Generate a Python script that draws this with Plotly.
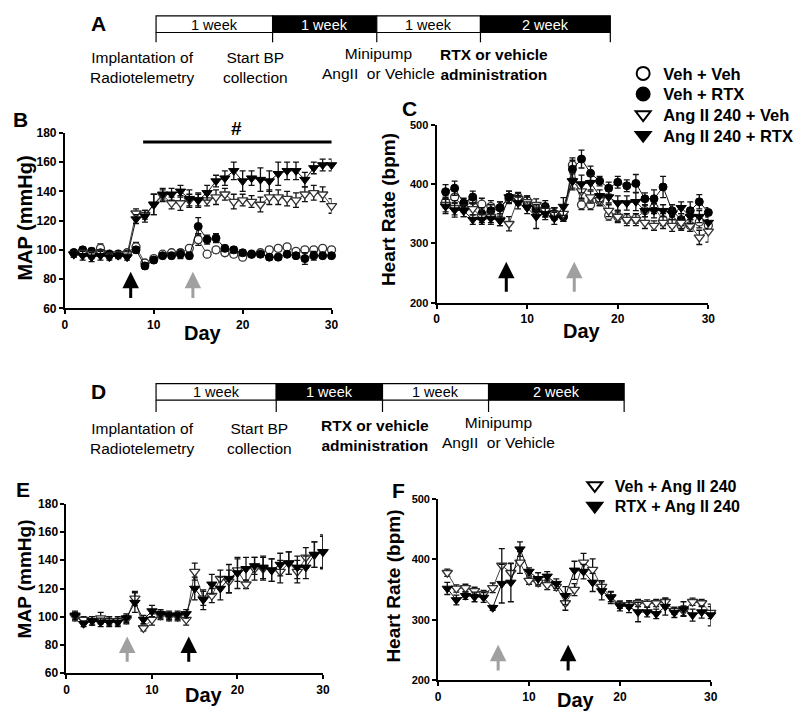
import plotly.graph_objects as go

# ---------------- data ----------------
days = list(range(1, 31))

# Panel B: MAP (mmHg)
b_veh_veh = [98, 99, 98, 101, 97, 97, 98, 102, 91, 94, 97, 98, 98, 101, 107, 97, 100, 98, 97, 95, 97, 98, 100, 101, 102, 99, 100, 100, 101, 100]
b_veh_veh_err = [2, 2, 3, 3, 2, 2, 2, 3, 2, 2, 1.5, 1.5, 2, 1.5, 4, 2, 2, 2, 2, 2, 1.5, 1.5, 1.5, 1.5, 1.5, 1.5, 2, 1.5, 1.5, 1.5]
b_veh_rtx = [98, 100, 99, 98, 97, 97, 97, 100, 89, 93, 96, 96, 97, 96, 116, 107, 108, 101, 100, 98, 97, 97, 95, 95, 97, 96, 94, 96, 96, 96]
b_veh_rtx_err = [2, 2, 2, 2, 2, 2, 2, 2, 2, 2, 2, 2, 3, 2, 6, 3, 3, 2, 2, 2, 2, 2, 2, 2, 2, 2, 4, 3, 2, 2]
b_ang_veh = [97, 98, 97, 98, 96, 97, 97, 125, 124, 131, 137, 132, 132, 134, 134, 134, 136, 138, 133, 134, 133, 131, 136, 136, 135, 134, 138, 139, 138, 130]
b_ang_veh_err = [2, 2, 3, 2, 2, 2, 2, 3, 3, 7, 4, 4, 5, 4, 4, 4, 5, 4, 5, 4, 4, 5, 5, 5, 5, 5, 5, 5, 5, 5]
b_ang_rtx = [97, 96, 95, 96, 95, 96, 95, 121, 123, 131, 138, 138, 140, 135, 134, 139, 147, 149, 154, 147, 149, 148, 147, 152, 154, 154, 148, 156, 158, 158]
b_ang_rtx_err = [2, 3, 3, 3, 2, 2, 2, 3, 4, 7, 4, 4, 4, 6, 5, 5, 4, 5, 6, 7, 5, 8, 7, 8, 6, 6, 5, 4, 4, 4]

# Panel C: Heart rate (bpm)
c_veh_veh = [370, 378, 360, 372, 366, 362, 360, 375, 378, 372, 356, 354, 350, 345, 432, 365, 365, 372, 347, 345, 342, 342, 355, 360, 340, 337, 330, 330, 336, 330]
c_veh_veh_err = [10, 10, 8, 10, 10, 10, 10, 8, 8, 8, 10, 10, 10, 8, 12, 8, 8, 8, 8, 8, 8, 8, 10, 10, 10, 10, 8, 10, 10, 10]
c_veh_rtx = [387, 393, 368, 378, 350, 355, 360, 378, 375, 368, 358, 362, 350, 345, 425, 442, 418, 405, 393, 403, 397, 401, 375, 375, 395, 355, 340, 355, 370, 352]
c_veh_rtx_err = [12, 12, 8, 10, 10, 10, 10, 10, 10, 10, 10, 10, 10, 8, 15, 15, 12, 8, 10, 10, 10, 15, 10, 15, 18, 10, 10, 15, 12, 8]
c_ang_veh = [365, 360, 355, 358, 345, 345, 340, 333, 375, 370, 365, 355, 350, 350, 405, 388, 378, 373, 355, 345, 340, 340, 335, 330, 335, 330, 335, 330, 310, 320]
c_ang_veh_err = [12, 12, 10, 10, 10, 10, 10, 12, 10, 10, 10, 10, 10, 10, 12, 12, 10, 10, 10, 10, 10, 10, 10, 8, 10, 10, 10, 10, 12, 18]
c_ang_rtx = [362, 356, 355, 340, 340, 342, 338, 378, 368, 360, 345, 350, 342, 362, 405, 400, 402, 380, 378, 368, 368, 370, 355, 355, 355, 350, 360, 345, 345, 335]
c_ang_rtx_err = [12, 12, 10, 8, 8, 10, 8, 10, 10, 10, 20, 10, 10, 15, 15, 15, 12, 10, 10, 12, 12, 15, 10, 12, 10, 10, 10, 12, 10, 10]

# Panel E: MAP (mmHg)
e_veh_ang = [100, 98, 97, 99, 97, 97, 98, 113, 92, 98, 101, 100, 100, 98, 132, 113, 115, 127, 125, 133, 123, 134, 134, 133, 132, 138, 132, 142, 144, 146]
e_veh_ang_err = [3, 2, 3, 4, 3, 3, 3, 5, 2, 4, 3, 3, 3, 4, 6, 5, 5, 6, 8, 8, 3, 8, 8, 8, 8, 8, 8, 7, 9, 12]
e_rtx_ang = [101, 95, 97, 96, 96, 96, 99, 110, 98, 104, 102, 101, 101, 102, 120, 112, 123, 120, 127, 131, 134, 136, 135, 133, 137, 138, 135, 135, 144, 146]
e_rtx_ang_err = [3, 2, 3, 3, 3, 3, 3, 7, 3, 4, 3, 3, 3, 3, 8, 7, 7, 8, 10, 11, 8, 6, 8, 8, 8, 8, 8, 8, 9, 11]

# Panel F: Heart rate (bpm)
f_veh_ang = [378, 352, 353, 348, 343, 353, 390, 378, 395, 365, 362, 358, 355, 328, 350, 395, 383, 355, 338, 325, 325, 328, 327, 328, 330, 315, 315, 330, 328, 312]
f_veh_ang_err = [6, 6, 6, 6, 6, 8, 28, 15, 18, 6, 6, 8, 6, 12, 10, 15, 18, 10, 8, 6, 6, 6, 6, 6, 6, 6, 8, 6, 6, 10]
f_rtx_ang = [352, 333, 340, 338, 337, 320, 360, 362, 417, 380, 368, 372, 360, 340, 382, 380, 362, 348, 337, 323, 322, 313, 313, 310, 322, 312, 318, 308, 313, 308]
f_rtx_ang_err = [10, 8, 6, 8, 8, 4, 32, 32, 12, 6, 10, 8, 8, 15, 15, 12, 15, 15, 10, 8, 10, 16, 8, 8, 14, 8, 12, 10, 10, 18]

# arrows (day of intervention, black = first, grey = second)
b_arrows = [(7.4, "#000000"), (14.4, "#a0a0a0")]
c_arrows = [(7.7, "#000000"), (15.2, "#a0a0a0")]
e_arrows = [(7.1, "#a0a0a0"), (14.3, "#000000")]
f_arrows = [(6.6, "#a0a0a0"), (14.3, "#000000")]

x_ticks = [0, 10, 20, 30]
map_ticks = [60, 80, 100, 120, 140, 160, 180]
hr_ticks = [200, 300, 400, 500]

legend_top = ["Veh + Veh", "Veh + RTX", "Ang II 240 + Veh", "Ang II 240 + RTX"]
legend_bottom = ["Veh + Ang II 240", "RTX + Ang II 240"]

timeline_a = ["1 week", "1 week", "1 week", "2 week"]
timeline_d = ["1 week", "1 week", "1 week", "2 week"]

# ---------------- layout helpers ----------------
W, H = 800, 722
FONT = "Liberation Sans, Arial, sans-serif"


def px(x):
    return x / W


def py(y):
    return 1 - y / H


OPEN_C = dict(symbol="circle", color="white", size=8, line=dict(color="#333333", width=1.3))
FILL_C = dict(symbol="circle", color="black", size=8, line=dict(color="black", width=1))
OPEN_T = dict(symbol="triangle-down", color="white", size=9, line=dict(color="#333333", width=1.3))
FILL_T = dict(symbol="triangle-down", color="black", size=9, line=dict(color="black", width=1))

fig = go.Figure()


def add_series(y, err, marker, xa, ya, linecolor):
    fig.add_trace(go.Scatter(
        x=days, y=y, mode="lines+markers", xaxis=xa, yaxis=ya,
        marker=marker, line=dict(color=linecolor, width=1),
        error_y=dict(type="data", array=err, visible=True, color="#111111", thickness=1.3, width=3),
        showlegend=False, cliponaxis=False, hoverinfo="skip"))


# B
add_series(b_veh_veh, b_veh_veh_err, OPEN_C, "x", "y", "#444444")
add_series(b_veh_rtx, b_veh_rtx_err, FILL_C, "x", "y", "#111111")
add_series(b_ang_veh, b_ang_veh_err, OPEN_T, "x", "y", "#444444")
add_series(b_ang_rtx, b_ang_rtx_err, FILL_T, "x", "y", "#111111")
# C
add_series(c_veh_veh, c_veh_veh_err, OPEN_C, "x2", "y2", "#444444")
add_series(c_veh_rtx, c_veh_rtx_err, FILL_C, "x2", "y2", "#111111")
add_series(c_ang_veh, c_ang_veh_err, OPEN_T, "x2", "y2", "#444444")
add_series(c_ang_rtx, c_ang_rtx_err, FILL_T, "x2", "y2", "#111111")
# E
add_series(e_veh_ang, e_veh_ang_err, OPEN_T, "x3", "y3", "#444444")
add_series(e_rtx_ang, e_rtx_ang_err, FILL_T, "x3", "y3", "#111111")
# F
add_series(f_veh_ang, f_veh_ang_err, OPEN_T, "x4", "y4", "#444444")
add_series(f_rtx_ang, f_rtx_ang_err, FILL_T, "x4", "y4", "#111111")

# legend entries: one legend per entry for exact placement
legend_layouts = {}
top_y = [68, 89, 110, 131]
for i, (name, mk) in enumerate(zip(legend_top, [OPEN_C, FILL_C, OPEN_T, FILL_T])):
    m = dict(mk)
    m["size"] = 13
    m["line"] = dict(color="black", width=2)
    lname = "legend" if i == 0 else "legend%d" % (i + 1)
    fig.add_trace(go.Scatter(x=[None], y=[None], mode="markers", marker=m, name=name,
                             legend=lname, xaxis="x", yaxis="y"))
    legend_layouts[lname] = dict(x=px(628), y=py(top_y[i]), xanchor="left", yanchor="middle",
                                 bgcolor="rgba(0,0,0,0)",
                                 font=dict(family=FONT, size=16.5, color="black", weight=700),
                                 itemsizing="trace")
bot_y = [488, 509]
for j, (name, mk) in enumerate(zip(legend_bottom, [OPEN_T, FILL_T])):
    m = dict(mk)
    m["size"] = 13
    m["line"] = dict(color="black", width=2)
    lname = "legend%d" % (5 + j)
    fig.add_trace(go.Scatter(x=[None], y=[None], mode="markers", marker=m, name=name,
                             legend=lname, xaxis="x4", yaxis="y4"))
    legend_layouts[lname] = dict(x=px(579), y=py(bot_y[j]), xanchor="left", yanchor="middle",
                                 bgcolor="rgba(0,0,0,0)",
                                 font=dict(family=FONT, size=16, color="black", weight=700),
                                 itemsizing="trace")


def tf(size):
    return dict(family=FONT, size=size, color="black", weight=700)


def xax(dom, anchor):
    return dict(domain=dom, anchor=anchor, range=[0, 30], tickvals=x_ticks, showline=True,
                linecolor="black", linewidth=2, ticks="outside", ticklen=4, tickwidth=2,
                tickcolor="black", showgrid=False, zeroline=False, tickfont=tf(12), fixedrange=True)


def yax(dom, anchor, rng, tv, fs=12):
    return dict(domain=dom, anchor=anchor, range=rng, tickvals=tv, showline=True,
                linecolor="black", linewidth=2, ticks="outside", ticklen=4, tickwidth=2,
                tickcolor="black", showgrid=False, zeroline=False, tickfont=tf(fs), fixedrange=True)


shapes = []
annotations = []


def text(t, x, y, size=15, bold=False, color="black", angle=0):
    annotations.append(dict(text=t, x=px(x), y=py(y), xref="paper", yref="paper", showarrow=False,
                            xanchor="center", yanchor="middle", textangle=angle,
                            font=dict(family=FONT, size=size, color=color, weight=700 if bold else 400)))


def timeline(bounds, top, bot, tick_bot, labels):
    fills = ["white", "black", "white", "black"]
    for i in range(4):
        shapes.append(dict(type="rect", xref="paper", yref="paper", x0=px(bounds[i]), x1=px(bounds[i + 1]),
                           y0=py(bot), y1=py(top), fillcolor=fills[i], line=dict(color="black", width=1.2)))
        text(labels[i], (bounds[i] + bounds[i + 1]) / 2, (top + bot) / 2 + 0.5, size=14.5,
             color="black" if fills[i] == "white" else "white")
    for b in bounds:
        shapes.append(dict(type="line", xref="paper", yref="paper", x0=px(b), x1=px(b),
                           y0=py(tick_bot), y1=py(bot), line=dict(color="black", width=1.2)))


# timeline A
timeline([155, 273, 378.5, 483.5, 615], 9, 26, 36, timeline_a)
text("Implantation of<br>Radiotelemetry", 141, 61.5, size=15.5)
text("Start BP<br>collection", 256, 61.5, size=15.5)
text("Minipump<br>AngII  or Vehicle", 380, 58, size=15.5)
text("RTX or vehicle<br>administration", 497, 58.5, size=15.5, bold=True)

# timeline D
timeline([155, 276.7, 384.3, 491.7, 629], 384, 401, 413, timeline_d)
text("Implantation of<br>Radiotelemetry", 141, 440.5, size=15.5)
text("Start BP<br>collection", 260, 440, size=15.5)
text("RTX or vehicle<br>administration", 377, 437, size=15.5, bold=True)
text("Minipump<br>AngII  or Vehicle", 502, 434, size=15.5)

# panel letters
for lt, x, y in [("A", 97, 17), ("B", 18, 115), ("C", 412, 104), ("D", 97, 392), ("E", 20, 492), ("F", 400, 493)]:
    text(lt, x, y, size=21, bold=True)

# axis titles
text("MAP (mmHg)", 22, 215, size=20, bold=True, angle=-90)
text("Heart Rate (bpm)", 391, 207, size=19, bold=True, angle=-90)
text("MAP (mmHg)", 22, 583, size=19, bold=True, angle=-90)
text("Heart Rate (bpm)", 395, 591, size=19, bold=True, angle=-90)
text("Day", 203, 332, size=20, bold=True)
text("Day", 586, 330, size=20, bold=True)
text("Day", 204, 702, size=20, bold=True)
text("Day", 580, 707, size=20, bold=True)

# significance bar in B
shapes.append(dict(type="line", xref="x", yref="y", x0=8.8, x1=30.05, y0=173.7, y1=173.7,
                   line=dict(color="black", width=3)))
text("#", 236, 124, size=19, bold=True)


def arrows(lst, xr, yr, top, bot):
    for d, col in lst:
        annotations.append(dict(x=d, y=top, ax=d, ay=bot, xref=xr, yref=yr, axref=xr, ayref=yr,
                                text="", showarrow=True, arrowhead=2, arrowsize=1.1, arrowwidth=3,
                                arrowcolor=col))


arrows(b_arrows, "x", "y", 85, 66)
arrows(c_arrows, "x2", "y2", 269, 216)
arrows(e_arrows, "x3", "y3", 86, 67)
arrows(f_arrows, "x4", "y4", 259, 214)

fig.update_layout(
    width=W, height=H, margin=dict(l=0, r=0, t=0, b=0),
    paper_bgcolor="white", plot_bgcolor="white",
    xaxis=xax([px(62.7), px(332.7)], "y"),
    yaxis=yax([py(307.3), py(128.3)], "x", [60, 180], map_ticks),
    xaxis2=xax([px(439), px(714.3)], "y2"),
    yaxis2=yax([py(301.5), py(120)], "x2", [200, 500], hr_ticks, fs=11),
    xaxis3=xax([px(64.3), px(324)], "y3"),
    yaxis3=yax([py(679.3), py(506.7)], "x3", [60, 180], map_ticks),
    xaxis4=xax([px(440.7), px(716.7)], "y4"),
    yaxis4=yax([py(686.7), py(501.7)], "x4", [200, 500], hr_ticks, fs=11),
    shapes=shapes, annotations=annotations,
    **legend_layouts,
)

fig.write_html("out.html", config={"displayModeBar": False},
               post_script="document.body.style.margin='0';document.body.style.overflow='hidden';")
